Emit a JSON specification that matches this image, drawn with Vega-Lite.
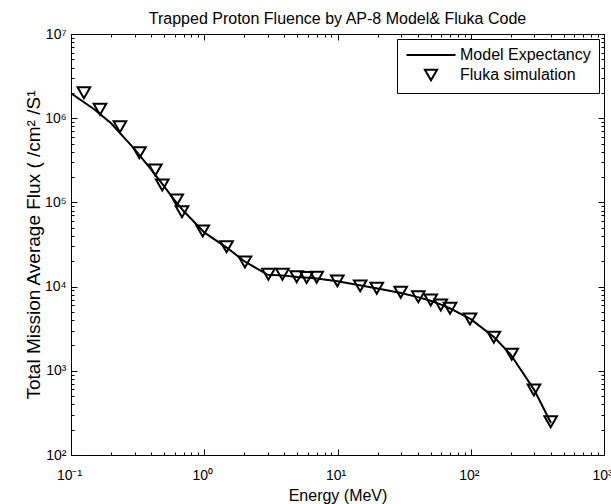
{
  "$schema": "https://vega.github.io/schema/vega-lite/v6.json",
  "width": 533,
  "height": 421,
  "autosize": {"type": "none"},
  "padding": {"left": 71, "top": 34, "right": 7, "bottom": 49},
  "background": "white",
  "title": {"text": "Trapped Proton Fluence by AP-8 Model& Fluka Code", "font": "Liberation Sans", "fontSize": 16, "fontWeight": "normal", "color": "black", "anchor": "middle", "baseline": "alphabetic", "offset": -13},
  "datasets": {
    "model": [
      {"E": 0.1, "F": 1980000}, {"E": 0.15, "F": 1270000}, {"E": 0.2, "F": 870000},
      {"E": 0.3, "F": 430000}, {"E": 0.4, "F": 245000}, {"E": 0.5, "F": 155000},
      {"E": 0.6, "F": 106000}, {"E": 0.7, "F": 79000}, {"E": 1, "F": 44000},
      {"E": 1.5, "F": 28500}, {"E": 2, "F": 20000}, {"E": 3, "F": 13800},
      {"E": 4, "F": 13500}, {"E": 5, "F": 13000}, {"E": 6, "F": 12700},
      {"E": 7, "F": 12500}, {"E": 10, "F": 11600}, {"E": 15, "F": 10300},
      {"E": 20, "F": 9500}, {"E": 30, "F": 8400}, {"E": 40, "F": 7500},
      {"E": 50, "F": 6800}, {"E": 60, "F": 6100}, {"E": 70, "F": 5500},
      {"E": 100, "F": 4100}, {"E": 150, "F": 2500}, {"E": 200, "F": 1550},
      {"E": 300, "F": 590}, {"E": 400, "F": 240}
    ],
    "fluka": [
      {"E": 0.125, "F": 2010000, "series": "Fluka simulation"},
      {"E": 0.165, "F": 1280000, "series": "Fluka simulation"},
      {"E": 0.233, "F": 793000, "series": "Fluka simulation"},
      {"E": 0.326, "F": 389000, "series": "Fluka simulation"},
      {"E": 0.429, "F": 243000, "series": "Fluka simulation"},
      {"E": 0.484, "F": 161000, "series": "Fluka simulation"},
      {"E": 0.621, "F": 107000, "series": "Fluka simulation"},
      {"E": 0.681, "F": 77600, "series": "Fluka simulation"},
      {"E": 0.974, "F": 45700, "series": "Fluka simulation"},
      {"E": 1.47, "F": 29800, "series": "Fluka simulation"},
      {"E": 2.02, "F": 19600, "series": "Fluka simulation"},
      {"E": 3.03, "F": 14000, "series": "Fluka simulation"},
      {"E": 3.86, "F": 14000, "series": "Fluka simulation"},
      {"E": 4.94, "F": 13100, "series": "Fluka simulation"},
      {"E": 5.87, "F": 12800, "series": "Fluka simulation"},
      {"E": 6.98, "F": 12900, "series": "Fluka simulation"},
      {"E": 9.97, "F": 11700, "series": "Fluka simulation"},
      {"E": 14.8, "F": 10200, "series": "Fluka simulation"},
      {"E": 19.7, "F": 9550, "series": "Fluka simulation"},
      {"E": 29.8, "F": 8550, "series": "Fluka simulation"},
      {"E": 40.4, "F": 7590, "series": "Fluka simulation"},
      {"E": 50.1, "F": 6930, "series": "Fluka simulation"},
      {"E": 59.6, "F": 6040, "series": "Fluka simulation"},
      {"E": 69.9, "F": 5520, "series": "Fluka simulation"},
      {"E": 98.7, "F": 4120, "series": "Fluka simulation"},
      {"E": 149, "F": 2500, "series": "Fluka simulation"},
      {"E": 203, "F": 1570, "series": "Fluka simulation"},
      {"E": 298, "F": 592, "series": "Fluka simulation"},
      {"E": 398, "F": 248, "series": "Fluka simulation"}
    ]
  },
  "layer": [
    {
      "data": {"name": "model"},
      "mark": {"type": "line", "color": "black", "strokeWidth": 2},
      "encoding": {
        "x": {
          "field": "E", "type": "quantitative",
          "scale": {"type": "log", "domain": [0.1, 1000], "nice": false},
          "axis": {
            "orient": "bottom",
            "values": [0.1,0.2,0.3,0.4,0.5,0.6,0.7,0.8,0.9,1,2,3,4,5,6,7,8,9,10,20,30,40,50,60,70,80,90,100,200,300,400,500,600,700,800,900,1000],
            "labelExpr": "datum.value == 0.1 ? '10⁻¹' : datum.value == 1 ? '10⁰' : datum.value == 10 ? '10¹' : datum.value == 100 ? '10²' : datum.value == 1000 ? '10³' : ''",
            "tickSize": {"condition": {"test": "indexof([0.1,1,10,100,1000], datum.value) >= 0", "value": -6}, "value": -3},
            "labelPadding": 19,
            "labelFontSize": 14,
            "labelOffset": -2,
            "title": "Energy (MeV)",
            "titleFontSize": 16,
            "titlePadding": 2
          }
        },
        "y": {
          "field": "F", "type": "quantitative",
          "scale": {"type": "log", "domain": [100, 10000000], "nice": false},
          "axis": {
            "orient": "left",
            "values": [100,200,300,400,500,600,700,800,900,1000,2000,3000,4000,5000,6000,7000,8000,9000,10000,20000,30000,40000,50000,60000,70000,80000,90000,100000,200000,300000,400000,500000,600000,700000,800000,900000,1000000,2000000,3000000,4000000,5000000,6000000,7000000,8000000,9000000,10000000],
            "labelExpr": "datum.value == 100 ? '10²' : datum.value == 1000 ? '10³' : datum.value == 10000 ? '10⁴' : datum.value == 100000 ? '10⁵' : datum.value == 1000000 ? '10⁶' : datum.value == 10000000 ? '10⁷' : ''",
            "tickSize": {"condition": {"test": "indexof([100,1000,10000,100000,1000000,10000000], datum.value) >= 0", "value": -6}, "value": -3},
            "labelPadding": 11,
            "labelFontSize": 14,
            "title": "Total Mission Average Flux ( /cm² /S¹",
            "titleFontSize": 19,
            "titlePadding": 1
          }
        }
      }
    },
    {
      "data": {"name": "fluka"},
      "mark": {"type": "point", "filled": false, "color": "black", "strokeWidth": 2, "size": 160, "opacity": 1},
      "encoding": {
        "x": {
          "field": "E", "type": "quantitative",
          "axis": {
            "orient": "top",
            "values": [0.1,0.2,0.3,0.4,0.5,0.6,0.7,0.8,0.9,1,2,3,4,5,6,7,8,9,10,20,30,40,50,60,70,80,90,100,200,300,400,500,600,700,800,900,1000],
            "labels": false,
            "tickSize": {"condition": {"test": "indexof([0.1,1,10,100,1000], datum.value) >= 0", "value": -6}, "value": -3},
            "title": null
          }
        },
        "y": {
          "field": "F", "type": "quantitative",
          "axis": {
            "orient": "right",
            "values": [100,200,300,400,500,600,700,800,900,1000,2000,3000,4000,5000,6000,7000,8000,9000,10000,20000,30000,40000,50000,60000,70000,80000,90000,100000,200000,300000,400000,500000,600000,700000,800000,900000,1000000,2000000,3000000,4000000,5000000,6000000,7000000,8000000,9000000,10000000],
            "labels": false,
            "tickSize": {"condition": {"test": "indexof([100,1000,10000,100000,1000000,10000000], datum.value) >= 0", "value": -6}, "value": -3},
            "title": null
          }
        },
        "shape": {
          "field": "series", "type": "nominal",
          "scale": {"domain": ["Model Expectancy", "Fluka simulation"], "range": ["M-4,0H4", "triangle-down"]},
          "legend": {
            "title": null,
            "orient": "top-right",
            "offset": 5,
            "strokeColor": "black",
            "fillColor": "white",
            "padding": 8,
            "labelFont": "Liberation Sans",
            "labelFontSize": 16,
            "labelColor": "black",
            "labelOffset": 21,
            "symbolOffset": 18,
            "rowPadding": 2,
            "symbolSize": 150,
            "symbolStrokeWidth": 2,
            "symbolStrokeColor": "black",
            "symbolFillColor": "transparent"
          }
        }
      }
    }
  ],
  "resolve": {"axis": {"x": "independent", "y": "independent"}},
  "config": {
    "view": {"stroke": "black", "strokeWidth": 1},
    "axis": {
      "domainColor": "black", "tickColor": "black", "labelColor": "black", "titleColor": "black",
      "labelFont": "Liberation Sans", "titleFont": "Liberation Sans", "titleFontWeight": "normal",
      "grid": false, "tickWidth": 1, "domainWidth": 1,
      "labelOverlap": false, "labelFlush": false, "labelBound": false
    }
  }
}
